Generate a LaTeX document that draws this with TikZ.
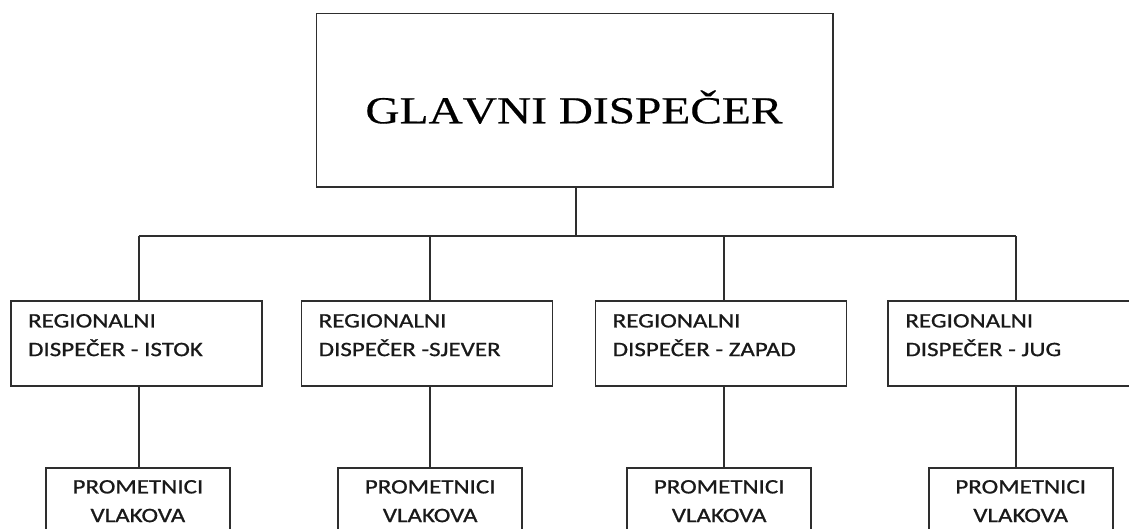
\documentclass[tikz,border=0pt]{standalone}
\usepackage{fontspec}
\newfontfamily\titlefont[FakeStretch=1.24,Kerning=Off,FakeBold=0.4]{Liberation Serif}
\newfontfamily\boxfont[FakeStretch=1.22,FakeBold=0.9]{Carlito}
\begin{document}
\begin{tikzpicture}[x=1pt,y=-1pt,
  box/.style={draw=black!82, line width=1.6pt, rectangle, inner sep=0pt},
  conn/.style={draw=black!82, line width=1.6pt},
  regbox/.style={box, minimum width=251pt, minimum height=85pt},
  lowbox/.style={box, minimum width=184pt, minimum height=80pt},
  lbl/.style={inner sep=0pt, text=black!90, font=\boxfont\fontsize{20.5}{28.7}\selectfont},
  titlelbl/.style={inner sep=0pt, font=\titlefont\fontsize{38.2}{40}\selectfont}]
\useasboundingbox (0,0) rectangle (1129,528);
\clip (0,0) rectangle (1129,528);
% main box
\node[box, minimum width=516.2pt, minimum height=173.4pt] (main) at (574.6,100) {};
\node[titlelbl, anchor=base] (title) at (574,123.3) {GLAVNI DISPEČER};
% regional boxes
\node[regbox] (r1) at (136.2,343.5) {};
\node[regbox] (r2) at (426.8,343.5) {};
\node[regbox] (r3) at (720.8,343.5) {};
\node[regbox] (r4) at (1013.5,343.5) {};
\node[lbl, anchor=north west, align=left] (t1) at ([shift={(18,13.7)}]r1.north west) {REGIONALNI\\DISPEČER - ISTOK};
\node[lbl, anchor=north west, align=left] (t2) at ([shift={(18,13.7)}]r2.north west) {REGIONALNI\\DISPEČER -SJEVER};
\node[lbl, anchor=north west, align=left] (t3) at ([shift={(18,13.7)}]r3.north west) {REGIONALNI\\DISPEČER - ZAPAD};
\node[lbl, anchor=north west, align=left] (t4) at ([shift={(18,13.7)}]r4.north west) {REGIONALNI\\DISPEČER - JUG};
% lower boxes
\node[lowbox] (p1) at (137.9,508) {};
\node[lowbox] (p2) at (430.2,508) {};
\node[lowbox] (p3) at (719.2,508) {};
\node[lowbox] (p4) at (1020.7,508) {};
\foreach \i in {1,2,3,4}{
  \node[lbl, anchor=north, align=center] (q\i) at ([shift={(0,12.7)}]p\i.north) {PROMETNICI\\VLAKOVA};
}
% connectors
\coordinate (hub) at (576,236);
\coordinate (b1) at (138.7,236);
\coordinate (b2) at (429.7,236);
\coordinate (b3) at (723.7,236);
\coordinate (b4) at (1016,236);
\draw[conn] (main.south -| hub) -- (hub);
\draw[conn] (b1) -- (b4);
\foreach \i in {1,2,3,4}{
  \draw[conn] (b\i) -- (b\i |- r\i.north);
  \draw[conn] (b\i |- r\i.south) -- (b\i |- p\i.north);
}
\end{tikzpicture}
\end{document}
